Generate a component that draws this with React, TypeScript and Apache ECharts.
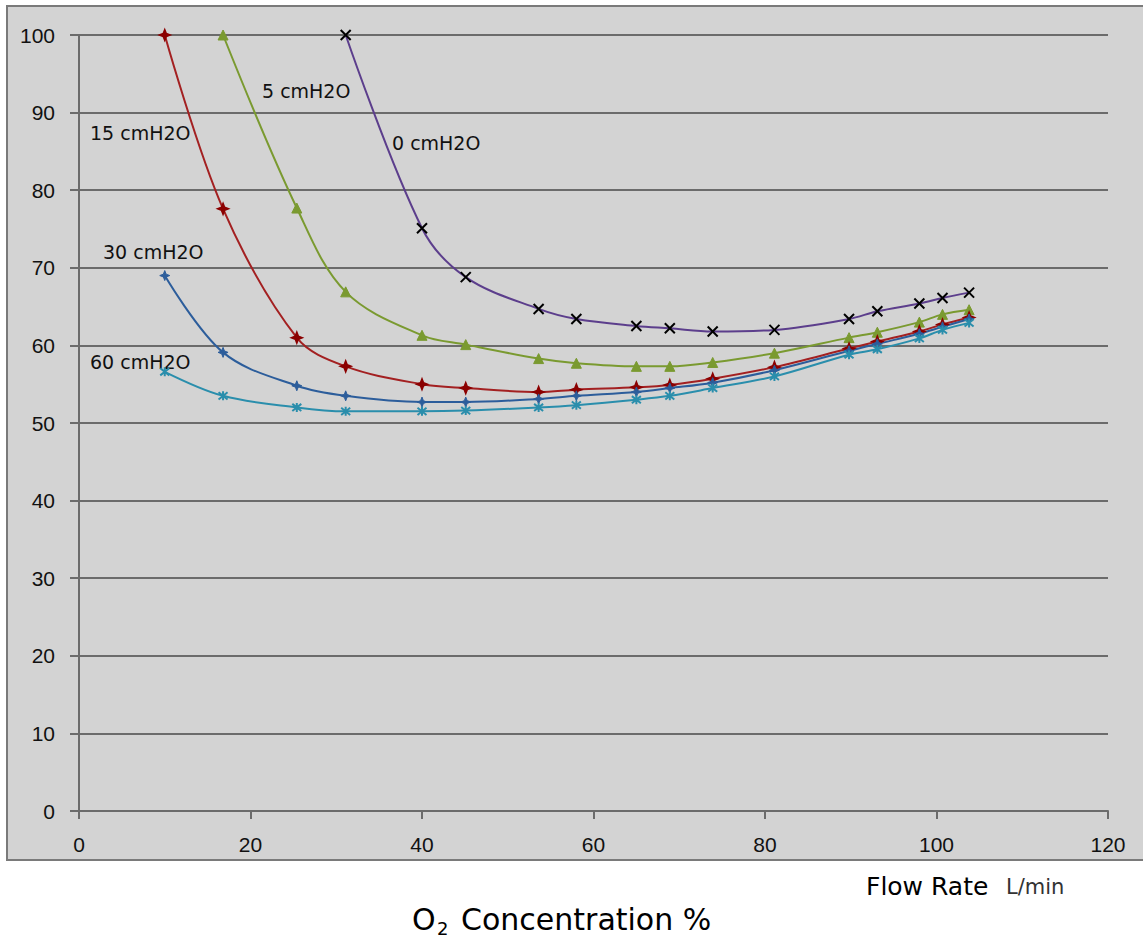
import React, { useEffect, useRef } from "react";
import * as echarts from "echarts";

const flowRates = [10, 16.8, 25.4, 31.1, 40.0, 45.1, 53.6, 58.0, 65.0, 68.9, 73.9, 81.1, 89.8, 93.1, 98.0, 100.7, 103.8];
const cm0 = [null, null, null, 100, 75.1, 68.8, 64.7, 63.4, 62.5, 62.2, 61.8, 62.0, 63.4, 64.4, 65.4, 66.1, 66.8];
const cm5 = [null, 100, 77.7, 66.9, 61.3, 60.1, 58.3, 57.7, 57.3, 57.3, 57.8, 59.0, 61.0, 61.7, 63.0, 64.0, 64.6];
const cm15 = [100, 77.6, 61.0, 57.3, 55.0, 54.5, 54.0, 54.3, 54.6, 54.9, 55.7, 57.2, 59.6, 60.5, 61.8, 62.7, 63.6];
const cm30 = [69.0, 59.1, 54.8, 53.5, 52.7, 52.7, 53.1, 53.5, 54.0, 54.5, 55.2, 56.8, 59.3, 60.2, 61.5, 62.4, 63.4];
const cm60 = [56.6, 53.5, 52.0, 51.5, 51.5, 51.6, 52.0, 52.3, 53.0, 53.5, 54.5, 56.0, 58.8, 59.5, 60.9, 62.0, 62.9];
const seriesNames = ["0 cmH2O", "5 cmH2O", "15 cmH2O", "30 cmH2O", "60 cmH2O"];

const pairs = (vals: (number | null)[]) =>
  flowRates.map((x, i) => [x, vals[i]]).filter((p) => p[1] !== null);

const SYM_X = "path://M0,0L10,10M10,0L0,10";
const SYM_STAR = "path://M5,0L6.4,3.6L10,5L6.4,6.4L5,10L3.6,6.4L0,5L3.6,3.6Z";
const SYM_AST = "path://M1,1L9,9M9,1L1,9M5,0L5,10";

export default function App() {
  const ref = useRef<HTMLDivElement>(null);
  useEffect(() => {
    const chart = echarts.init(ref.current!, null, { renderer: "svg" });
    const tickFont = "'Liberation Sans', Arial, sans-serif";
    const labelFont = "'DejaVu Sans', sans-serif";
    const mk = (name: string, vals: (number | null)[], lineColor: string, symbol: string, symColor: string, fill: string, size: number, bw: number) => ({
      name,
      type: "line",
      data: pairs(vals),
      smooth: 0.35,
      symbol,
      symbolSize: size,
      showAllSymbol: true,
      lineStyle: { color: lineColor, width: 2 },
      itemStyle: { color: fill, borderColor: symColor, borderWidth: bw },
      z: 3,
    });
    const txt = (text: string, x: number, y: number, size: number, color = "#111") => ({
      type: "text",
      x,
      y,
      style: { text, font: `${size}px ${labelFont}`, fill: color, textVerticalAlign: "middle" },
    });
    chart.setOption({
      animation: false,
      backgroundColor: "#ffffff",
      grid: { left: 79, top: 35, right: 35, bottom: 129 },
      xAxis: {
        type: "value",
        min: 0,
        max: 120,
        interval: 20,
        axisLine: { show: true, onZero: false, lineStyle: { color: "#6b6b6b", width: 2 } },
        axisTick: { show: true, length: 8, lineStyle: { color: "#6b6b6b", width: 2 } },
        axisLabel: { margin: 23, fontSize: 21, color: "#111", fontFamily: tickFont },
        splitLine: { show: false },
      },
      yAxis: {
        type: "value",
        min: 0,
        max: 100,
        interval: 10,
        axisLine: { show: true, lineStyle: { color: "#6b6b6b", width: 2 } },
        axisTick: { show: true, length: 9, lineStyle: { color: "#6b6b6b", width: 2 } },
        axisLabel: { margin: 24, fontSize: 21, color: "#111", fontFamily: tickFont },
        splitLine: { show: true, lineStyle: { color: "#6b6b6b", width: 2 } },
      },
      graphic: [
        {
          type: "rect",
          z: -10,
          silent: true,
          shape: { x: 7, y: 6, width: 1150, height: 854 },
          style: { fill: "#d3d3d3", stroke: "#7a7a7a", lineWidth: 2 },
        },
        txt(seriesNames[1], 262, 91, 19),
        txt(seriesNames[2], 90, 133, 19),
        txt(seriesNames[0], 392, 143, 19),
        txt(seriesNames[3], 103, 252, 19),
        txt(seriesNames[4], 90, 362, 19),
        txt("Flow Rate", 866, 886, 25, "#000"),
        txt("L/min", 1006, 887, 21, "#333"),
        txt("O", 412, 919, 30, "#000"),
        txt("2", 437, 928, 18, "#000"),
        txt("Concentration %", 461, 919, 30, "#000"),
      ],
      series: [
        mk(seriesNames[0], cm0, "#5c3e8c", SYM_X, "#000000", "none", 10, 2),
        mk(seriesNames[1], cm5, "#7a9a30", "triangle", "#7a9a30", "#7a9a30", 10, 1),
        mk(seriesNames[2], cm15, "#a32021", SYM_STAR, "#8b0000", "#8b0000", 11, 1.5),
        mk(seriesNames[3], cm30, "#2c5d9b", SYM_STAR, "#2c5d9b", "#2c5d9b", 10, 1),
        mk(seriesNames[4], cm60, "#2a8eac", SYM_AST, "#2a8eac", "none", 9, 2),
      ],
    });
    return () => chart.dispose();
  }, []);
  return <div ref={ref} style={{ position: "absolute", left: 0, top: 0, width: 1143, height: 940 }} />;
}
